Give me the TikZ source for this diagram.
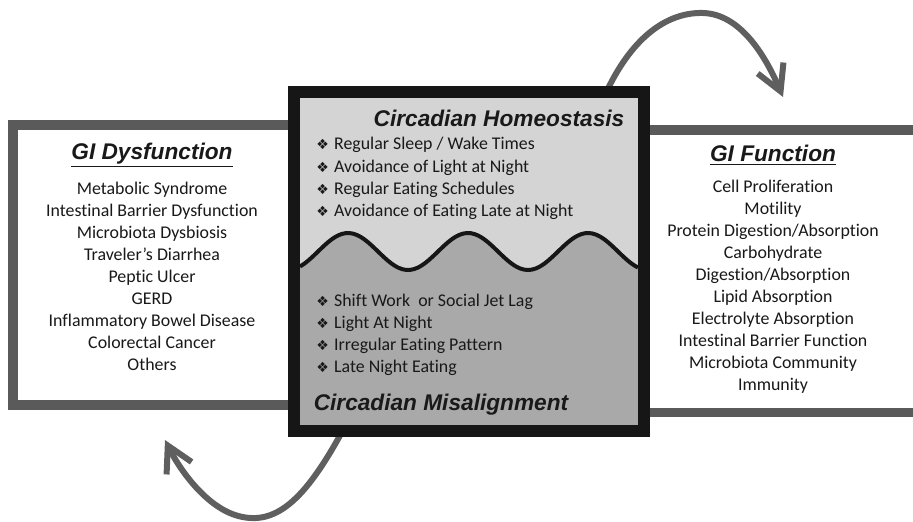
\documentclass[tikz,border=0pt]{standalone}
\usepackage{fontspec}
\setmainfont{Carlito}[Ligatures={NoCommon}]
\newfontfamily\headfont{Liberation Sans}
\newfontfamily\symfont{DejaVu Sans}
\usepackage{xcolor}
\usetikzlibrary{arrows.meta}

\definecolor{framegray}{HTML}{5A5A5A}
\definecolor{arrowgray}{HTML}{5F5F5F}
\definecolor{lightfill}{HTML}{D4D4D4}
\definecolor{darkfill}{HTML}{A9A9A9}
\definecolor{boxblack}{HTML}{161616}
\newcommand{\dia}{{\symfont\fontsize{10.5}{10.5}\selectfont ❖}\hspace{4pt}}

\begin{document}
\begin{tikzpicture}[x=0.75pt,y=-0.75pt,
    title/.style={font=\headfont\bfseries\itshape\fontsize{17}{20}\selectfont, text=black!90},
    body/.style={font=\fontsize{13.4}{16.5}\selectfont, align=center, text=black!90},
    bullets/.style={font=\fontsize{13.4}{16.6}\selectfont, align=left, anchor=west, inner sep=0pt, text=black!90},
    cycle arrow/.style={arrowgray, line width=4.5pt, line cap=round,
        -{Straight Barb[length=19pt,width=21pt]}}]
    \useasboundingbox (0,0) rectangle (913,521);

    % Draw curved arrows behind the boxes
    \coordinate (homtop) at (605,95);
    \coordinate (funtip) at (783,97);
    \coordinate (misbot) at (343,430);
    \coordinate (dystip) at (165,440);
    \draw[cycle arrow] (homtop) .. controls (630,40) and (665,12) .. (703,13)
        .. controls (740,14) and (765,55) .. (funtip);
    \draw[cycle arrow] (misbot) .. controls (305,500) and (275,528) .. (235,515)
        .. controls (205,505) and (180,470) .. (dystip);

    % Draw side frames
    \draw[framegray, line width=7.5pt] (300,125) -- (13,125) -- (13,405) -- (300,405);
    \draw[framegray, line width=7pt] (640,130) -- (930,130);
    \draw[framegray, line width=7pt] (640,412.5) -- (930,412.5);
    \fill[white] (18,130) rectangle (290,400);
    \fill[white] (645,135) rectangle (913,408);

    % Draw centre box with wave
    \fill[lightfill] (300,98) rectangle (638,425);
    \fill[darkfill] plot[domain=300:638, samples=90, smooth] (\x, {251.5-18.5*sin(3*(\x-318))})
        -- (638,425) -- (300,425) -- cycle;
    \draw[boxblack, line width=3pt] plot[domain=300:638, samples=90, smooth] (\x, {251.5-18.5*sin(3*(\x-318))});
    \draw[boxblack, line width=8.5pt] (294,92) rectangle (644,431);

    % Label centre box
    \node[title] (homtitle) at (499,118) {Circadian Homeostasis};
    \node[bullets] (homlist) at (316,178.5) {\dia Regular Sleep / Wake Times\\
        \dia Avoidance of Light at Night\\
        \dia Regular Eating Schedules\\
        \dia Avoidance of Eating Late at Night};
    \node[bullets] (mislist) at (316,335) {\dia Shift Work\ \ or Social Jet Lag\\
        \dia Light At Night\\
        \dia Irregular Eating Pattern\\
        \dia Late Night Eating};
    \node[title] (mistitle) at (441,405) {Circadian Misalignment};

    % Label side boxes
    \node[title] (dystitle) at (152,155) {\underline{GI Dysfunction}};
    \node[body] (dyslist) at (152,276) {Metabolic Syndrome\\
        Intestinal Barrier Dysfunction\\
        Microbiota Dysbiosis\\
        Traveler’s Diarrhea\\
        Peptic Ulcer\\
        GERD\\
        Inflammatory Bowel Disease\\
        Colorectal Cancer\\
        Others};
    \node[title] (funtitle) at (773,155) {\underline{GI Function}};
    \node[body] (funlist) at (773,287) {Cell Proliferation\\
        Motility\\
        Protein Digestion/Absorption\\
        Carbohydrate\\
        Digestion/Absorption\\
        Lipid Absorption\\
        Electrolyte Absorption\\
        Intestinal Barrier Function\\
        Microbiota Community\\
        Immunity};
\end{tikzpicture}
\end{document}
